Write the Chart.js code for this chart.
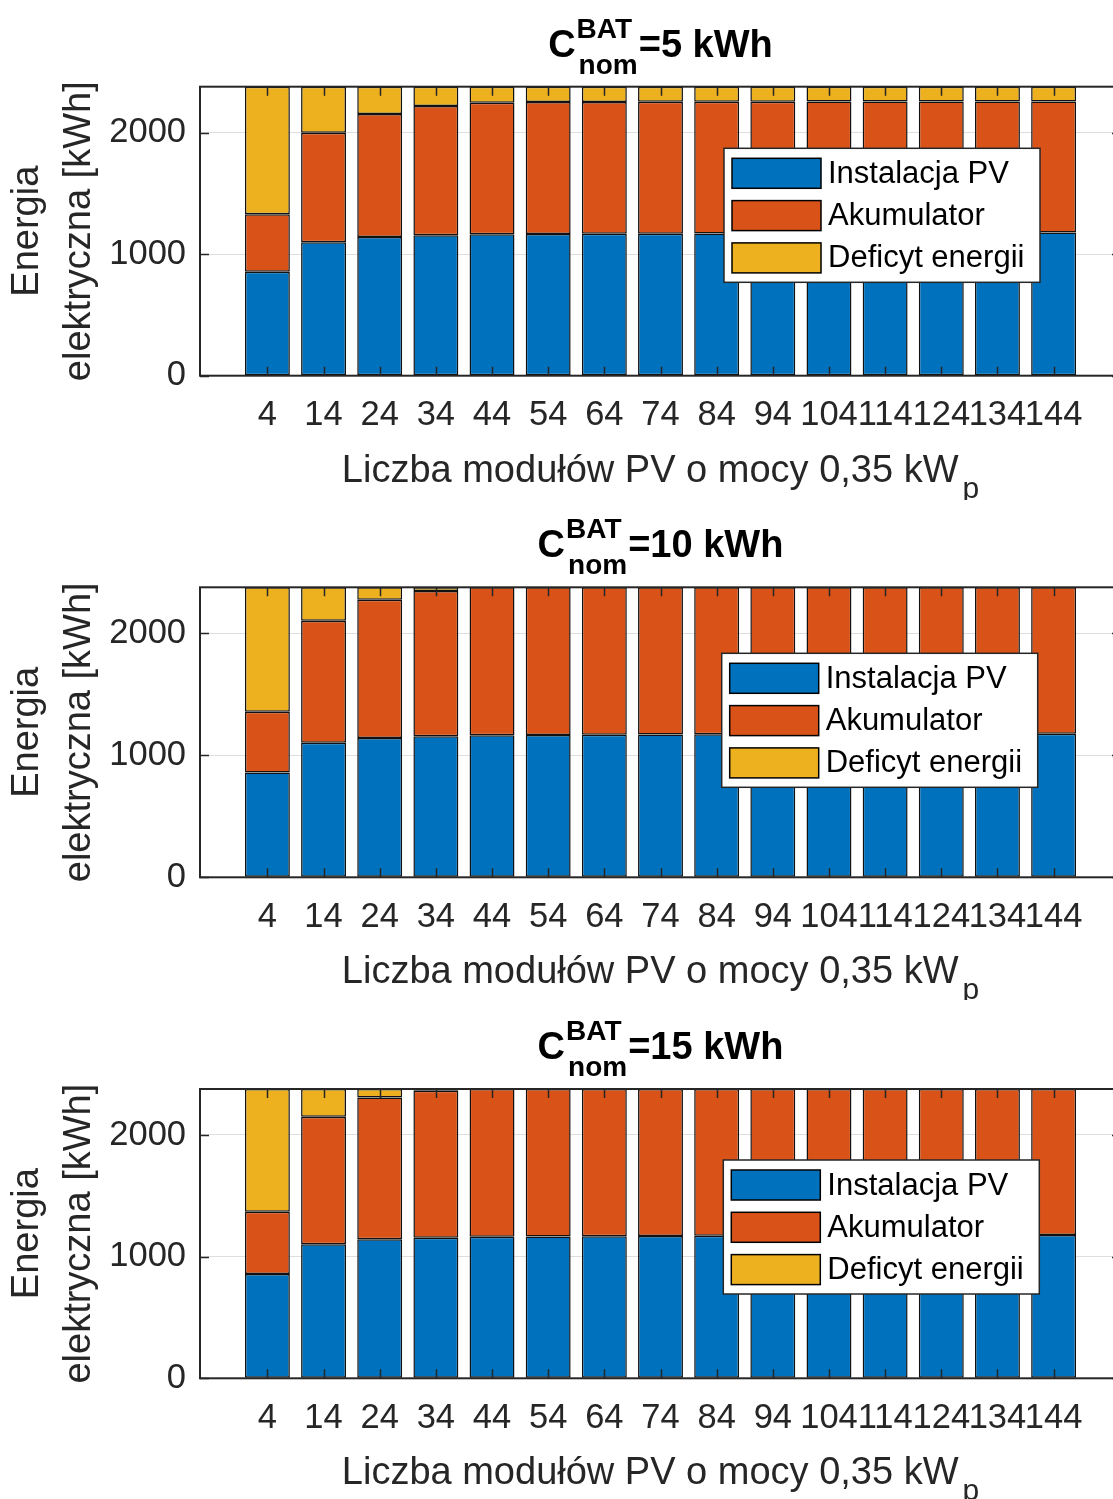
<!DOCTYPE html>
<html>
<head>
<meta charset="utf-8">
<script src="https://cdn.jsdelivr.net/npm/chart.js@4.4.1/dist/chart.umd.min.js"></script>
<style>
  html, body { margin: 0; padding: 0; background: #fff; overflow: hidden; }
  .plot { position: absolute; left: 0; width: 1130px; }
</style>
</head>
<body>
<div class="plot" style="top:0"><canvas id="c5" width="1130" height="500"></canvas></div>
<div class="plot" style="top:500px"><canvas id="c10" width="1130" height="500"></canvas></div>
<div class="plot" style="top:1000px"><canvas id="c15" width="1130" height="499"></canvas></div>
<script>
// liczba modułów PV
const categories = [4, 14, 24, 34, 44, 54, 64, 74, 84, 94, 104, 114, 124, 134, 144];
const seriesNames = ['Instalacja PV', 'Akumulator', 'Deficyt energii'];
const yTicks = [0, 1000, 2000];
const yMax = 2378;

// C_nom = 5 kWh
const pv5  = [855, 1098, 1142, 1156, 1164, 1165, 1167, 1169, 1171, 1172, 1173, 1174, 1175, 1176, 1178];
const bat5 = [474, 902, 1011, 1063, 1082, 1087, 1086, 1085, 1084, 1083, 1083, 1082, 1081, 1081, 1079];
const def5 = [1049, 378, 225, 159, 132, 126, 125, 124, 123, 123, 122, 122, 122, 121, 121];

// C_nom = 10 kWh
const pv10  = [860, 1104, 1142, 1156, 1164, 1166, 1168, 1170, 1172, 1173, 1174, 1175, 1176, 1177, 1178];
const bat10 = [498, 1000, 1134, 1191, 1214, 1212, 1210, 1208, 1206, 1205, 1204, 1203, 1202, 1201, 1200];
const def10 = [1020, 274, 102, 31, 0, 0, 0, 0, 0, 0, 0, 0, 0, 0, 0];

// C_nom = 15 kWh
const pv15  = [857, 1101, 1142, 1155, 1163, 1166, 1168, 1170, 1172, 1173, 1174, 1175, 1176, 1177, 1178];
const bat15 = [512, 1049, 1167, 1208, 1215, 1212, 1210, 1208, 1206, 1205, 1204, 1203, 1202, 1201, 1200];
const def15 = [1009, 228, 69, 15, 0, 0, 0, 0, 0, 0, 0, 0, 0, 0, 0];

const colors = ['#0072BD', '#D95319', '#EDB120'];
const FF = "'Liberation Sans', Arial, Helvetica, sans-serif";
const AX = '#262626';

Chart.defaults.font.family = FF;
Chart.defaults.color = AX;

// ramka osi, znaczniki do wewnątrz, tytuł, opisy, legenda
const matlabAxes = {
  id: 'matlabAxes',
  afterDatasetsDraw(chart) {
    const { ctx, chartArea: a, scales: { x, y } } = chart;
    ctx.save();
    ctx.strokeStyle = AX;
    ctx.lineWidth = 1.5;
    ctx.beginPath();
    x.ticks.forEach(t => {
      const px = Math.round(x.getPixelForValue(t.value)) + 0.5;
      ctx.moveTo(px, a.bottom); ctx.lineTo(px, a.bottom - 9);
      ctx.moveTo(px, a.top); ctx.lineTo(px, a.top + 9);
    });
    y.ticks.forEach(t => {
      const py = Math.round(y.getPixelForValue(t.value)) + 0.5;
      ctx.moveTo(a.left, py); ctx.lineTo(a.left + 9, py);
      ctx.moveTo(a.right, py); ctx.lineTo(a.right - 9, py);
    });
    ctx.stroke();
    ctx.lineWidth = 2;
    ctx.strokeRect(a.left, a.top, a.right - a.left, a.bottom - a.top);
    ctx.restore();
  },
  afterDraw(chart, args, opts) {
    const { ctx, chartArea: a } = chart;
    const cx = (a.left + a.right) / 2;
    ctx.save();

    // tytuł: C^{BAT}_{nom}=.. kWh
    const big = 'bold 38px ' + FF, small = 'bold 28px ' + FF;
    const rest = '=' + opts.cap + ' kWh';
    ctx.font = big;
    const wC = ctx.measureText('C').width, wR = ctx.measureText(rest).width;
    ctx.font = small;
    const wS = Math.max(ctx.measureText('BAT').width, ctx.measureText('nom').width);
    let tx = cx - (wC + 1 + wS + 3 + wR) / 2;
    const tb = a.top - 30;
    ctx.fillStyle = '#000';
    ctx.textBaseline = 'alphabetic';
    ctx.textAlign = 'left';
    ctx.font = big; ctx.fillText('C', tx, tb);
    tx += wC + 1;
    ctx.font = small;
    ctx.fillText('BAT', tx, tb - 19);
    ctx.fillText('nom', tx + 2, tb + 17);
    tx += wS + 3;
    ctx.font = big; ctx.fillText(rest, tx, tb);

    // opis osi x z indeksem dolnym
    ctx.fillStyle = AX;
    const xl = 'Liczba modułów PV o mocy 0,35 kW';
    ctx.font = '38px ' + FF;
    const wx = ctx.measureText(xl).width;
    ctx.font = '30px ' + FF;
    const wp = ctx.measureText('p').width;
    let lx = cx - (wx + 4 + wp) / 2;
    const lb = a.bottom + 106;
    ctx.font = '38px ' + FF; ctx.fillText(xl, lx, lb);
    ctx.font = '30px ' + FF; ctx.fillText('p', lx + wx + 4, lb + 16);

    // opis osi y (dwie linie, obrócony)
    ctx.save();
    const cy = (a.top + a.bottom) / 2;
    ctx.font = '38px ' + FF;
    ctx.textAlign = 'center';
    ctx.textBaseline = 'middle';
    [['Energia', 28], ['elektryczna [kWh]', 80]].forEach(([s, px]) => {
      ctx.save();
      ctx.translate(px, cy);
      ctx.rotate(-Math.PI / 2);
      ctx.fillText(s, 0, 0);
      ctx.restore();
    });
    ctx.restore();

    // legenda
    const L = opts.legend;
    ctx.fillStyle = '#fff';
    ctx.fillRect(L.x, L.y, 316, 134);
    ctx.strokeStyle = AX;
    ctx.lineWidth = 1.5;
    ctx.strokeRect(L.x, L.y, 316, 134);
    ctx.font = '31px ' + FF;
    ctx.textBaseline = 'middle';
    ctx.textAlign = 'left';
    chart.data.datasets.forEach((ds, i) => {
      const ry = L.y + 10 + i * 42.3;
      ctx.fillStyle = ds.backgroundColor;
      ctx.fillRect(L.x + 8, ry, 89, 30);
      ctx.strokeStyle = '#000';
      ctx.lineWidth = 1.5;
      ctx.strokeRect(L.x + 8, ry, 89, 30);
      ctx.fillStyle = '#000';
      ctx.fillText(ds.label, L.x + 104, ry + 16);
    });
    ctx.restore();
  }
};

function makeChart(id, pv, bat, def, cap, top, bottom, legend) {
  const canvas = document.getElementById(id);
  const H = canvas.height;
  const series = [pv, bat, def];
  return new Chart(canvas, {
    type: 'bar',
    data: {
      datasets: series.map((vals, i) => ({
        label: seriesNames[i],
        data: vals.map((v, j) => ({ x: categories[j], y: v })),
        backgroundColor: colors[i],
        borderColor: '#111',
        borderWidth: 1.5,
        borderSkipped: false,
        categoryPercentage: 1,
        barPercentage: 0.8
      }))
    },
    options: {
      responsive: false,
      animation: false,
      layout: { padding: { top: top, right: 9, left: 0, bottom: 0 } },
      plugins: {
        legend: { display: false },
        tooltip: { enabled: false },
        matlabAxes: { cap: cap, legend: legend }
      },
      scales: {
        x: {
          type: 'linear',
          stacked: true,
          offset: false,
          min: -8,
          max: 156,
          afterBuildTicks: s => { s.ticks = categories.map(v => ({ value: v })); },
          afterFit: s => { s.height = H - bottom; },
          grid: { display: false, drawTicks: false },
          border: { display: false },
          ticks: {
            autoSkip: false, maxRotation: 0, minRotation: 0,
            padding: 19,
            font: { size: 34.5 },
            color: AX,
            callback: v => String(v)
          }
        },
        y: {
          stacked: true,
          min: 0,
          max: yMax,
          afterBuildTicks: s => { s.ticks = yTicks.map(v => ({ value: v })); },
          afterFit: s => { s.width = 200; },
          grid: { color: '#dedede', lineWidth: 1, drawTicks: false },
          border: { display: false },
          ticks: {
            padding: 14,
            font: { size: 34.5 },
            color: AX,
            callback: v => String(v)
          }
        }
      }
    },
    plugins: [matlabAxes]
  });
}

makeChart('c5', pv5, bat5, def5, '5', 86.7, 375.7, { x: 724, y: 148.3 });
makeChart('c10', pv10, bat10, def10, '10', 87.3, 377.3, { x: 721.7, y: 153.3 });
makeChart('c15', pv15, bat15, def15, '15', 89, 378.3, { x: 723.3, y: 160 });
</script>
</body>
</html>
